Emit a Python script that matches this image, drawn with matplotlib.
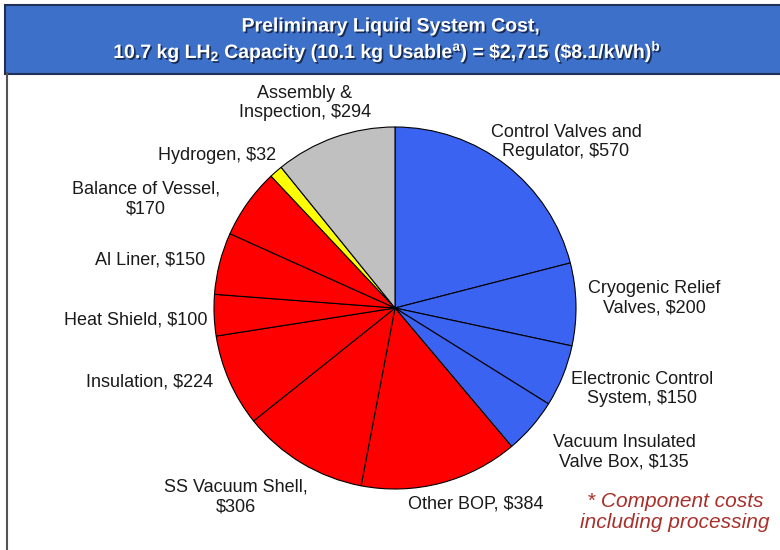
import matplotlib
matplotlib.use("Agg")
import matplotlib.pyplot as plt
import matplotlib.patheffects as pe
from matplotlib.patches import Rectangle

plt.rcParams["font.family"] = ["Liberation Sans", "DejaVu Sans"]
plt.rcParams["mathtext.fontset"] = "custom"
plt.rcParams["mathtext.rm"] = "Liberation Sans:bold"
plt.rcParams["mathtext.it"] = "Liberation Sans:bold"
plt.rcParams["mathtext.bf"] = "Liberation Sans:bold"

# cost breakdown, clockwise from 12 o'clock
labels = ["Control Valves and\nRegulator, $570", "Cryogenic Relief\nValves, $200",
          "Electronic Control\nSystem, $150", "Vacuum Insulated\nValve Box, $135",
          "Other BOP, $384", "SS Vacuum Shell,\n$306", "Insulation, $224",
          "Heat Shield, $100", "Al Liner, $150", "Balance of Vessel,\n$170",
          "Hydrogen, $32", "Assembly &\nInspection, $294"]
costs = [570, 200, 150, 135, 384, 306, 224, 100, 150, 170, 32, 294]
colors = ["#3a63f2"] * 4 + ["#ff0000"] * 6 + ["#ffff00", "#c0c0c0"]

# label anchor points (pixels from top-left)
label_xy = [(566, 142), (654, 298), (642, 389), (624, 452), (476, 504), (236, 497),
            (150, 382), (136, 320), (150, 260), (146, 199), (217, 155), (305, 103)]

W, H = 780, 550
fig = plt.figure(figsize=(W / 100, H / 100), dpi=100)
ax = fig.add_axes([0, 0, 1, 1])

ax.pie(costs, colors=colors, startangle=90, counterclock=False,
       center=(395, H - 308), radius=181, frame=True,
       wedgeprops=dict(edgecolor="black", linewidth=0.8))
ax.set_xlim(0, W)
ax.set_ylim(0, H)
ax.set_aspect("equal")
ax.axis("off")

for lab, (x, y) in zip(labels, label_xy):
    ax.text(x, H - y, lab, ha="center", va="center", fontsize=13,
            color="#1a1a1a", linespacing=1.2)

# frame and title bar
ax.plot([7, 7], [0, H - 73], color="#555555", lw=1.5)
ax.add_patch(Rectangle((5, H - 74), W, 69, facecolor="#3d70c8",
                       edgecolor="#1f2f55", lw=1.5))
shadow = [pe.withSimplePatchShadow(offset=(1.2, -1.2), shadow_rgbFace="#14234a", alpha=0.9)]
t1 = ax.text(391, H - 27, "Preliminary Liquid System Cost,", ha="center", va="center",
             fontsize=14, color="white", fontweight="bold")
t2 = ax.text(388, H - 52,
             r"10.7 kg LH$_2$ Capacity (10.1 kg Usable$^{\mathrm{a}}$) = \$2,715 (\$8.1/kWh)$^{\mathrm{b}}$",
             ha="center", va="center", fontsize=14, color="white", fontweight="bold")
for t in (t1, t2):
    t.set_path_effects(shadow)

ax.text(675, H - 512, "* Component costs\nincluding processing", ha="center", va="center",
        fontsize=15, style="italic", color="#a8302a", linespacing=1.15)

fig.savefig("out.png", dpi=100)
